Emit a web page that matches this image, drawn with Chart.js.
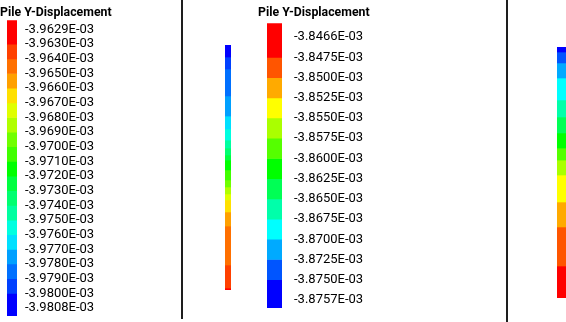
<!DOCTYPE html>
<html>
<head>
<meta charset="utf-8">
<script src="https://cdn.jsdelivr.net/npm/chart.js@4.4.1/dist/chart.umd.min.js"></script>
<style>
  body { margin: 0; width: 566px; height: 322px; overflow: hidden; background: #fff; position: relative; }
  canvas { position: absolute; }
  .divisor { position: absolute; top: 0; width: 2px; background: #1e1e1e; }
</style>
</head>
<body>
<canvas id="leyenda1" width="180" height="322" style="left:0;top:0"></canvas>
<canvas id="pilote1" width="6" height="245" style="left:225px;top:45px"></canvas>
<div class="divisor" style="left:181px;height:319px"></div>
<canvas id="leyenda2" width="224" height="322" style="left:258px;top:0"></canvas>
<div class="divisor" style="left:506px;height:322px"></div>
<canvas id="pilote2" width="10" height="251" style="left:557px;top:47px"></canvas>
<script>
// legend values (x1E-03)
const valoresLeyenda1 = [-3.9629, -3.9630, -3.9640, -3.9650, -3.9660, -3.9670, -3.9680, -3.9690, -3.9700, -3.9710,
  -3.9720, -3.9730, -3.9740, -3.9750, -3.9760, -3.9770, -3.9780, -3.9790, -3.9800, -3.9808];
const valoresLeyenda2 = [-3.8466, -3.8475, -3.8500, -3.8525, -3.8550, -3.8575, -3.8600, -3.8625, -3.8650, -3.8675,
  -3.8700, -3.8725, -3.8750, -3.8757];

const colores1 = ['#ff0000', '#ff4000', '#ff7000', '#ffa000', '#ffe000', '#e0ff00', '#b0ff00', '#70ff00', '#40ff00', '#00ff00',
  '#00ff40', '#00ff70', '#00ffa0', '#00ffe0', '#00e0ff', '#00a0ff', '#0070ff', '#0040ff', '#0000ff'];
const colores2 = ['#ff0000', '#ff5500', '#ffaa00', '#ffff00', '#aaff00', '#55ff00', '#00ff00', '#00ff55', '#00ffaa', '#00ffff',
  '#00aaff', '#0055ff', '#0000ff'];

// piles: depth of band limits (m) and legend band of each segment, top to bottom
const profPilote1 = [0, 0.98, 1.96, 4.16, 5.80, 6.86, 7.76, 8.41, 8.98, 9.39, 10.20, 11.02, 11.59, 12.16, 12.65, 13.63, 14.78, 17.96, 19.84, 20];
const bandaPilote1 = [18, 17, 16, 15, 14, 13, 12, 11, 10, 9, 8, 7, 6, 5, 4, 3, 2, 1, 0];
const profPilote2 = [0, 0.40, 1.27, 2.47, 4.22, 5.58, 6.85, 8.05, 9.01, 10.20, 12.35, 14.34, 17.45, 20];
const bandaPilote2 = [12, 11, 10, 9, 8, 7, 6, 5, 4, 3, 2, 1, 0];

const fuente = 'Roboto';
Chart.defaults.font.family = fuente;

const formatear = (v) => {
  const [m, e] = (v * 1e-3).toExponential(4).split('e');
  const exp = Math.abs(Number(e));
  return `${m}E${Number(e) < 0 ? '-' : '+'}${exp < 10 ? '0' + exp : exp}`;
};

function crearLeyenda(id, valores, colores, caja) {
  const n = colores.length;
  const datasets = colores.map((c, k) => ({
    data: [[k === 0 ? caja.min : k, k === n - 1 ? caja.max : k + 1]],
    backgroundColor: c,
    borderWidth: 0,
    barPercentage: 1,
    categoryPercentage: 1,
    yAxisID: 'y'
  }));
  return new Chart(document.getElementById(id), {
    type: 'bar',
    data: { labels: [''], datasets },
    options: {
      responsive: false,
      animation: false,
      layout: { padding: { top: 0, left: 0, right: 0, bottom: caja.abajo } },
      plugins: {
        legend: { display: false },
        tooltip: { enabled: false },
        title: {
          display: true,
          text: 'Pile Y-Displacement',
          align: 'start',
          color: '#000',
          font: { size: 12.3, weight: 'bold' },
          padding: { top: 5.5, bottom: caja.tituloAbajo }
        }
      },
      scales: {
        x: { display: false, stacked: true },
        hueco: {
          axis: 'y', position: 'left',
          ticks: { display: false },
          grid: { display: false, drawTicks: false },
          border: { display: false },
          afterFit: (s) => { s.width = caja.hueco; s.paddingTop = 0; s.paddingBottom = 0; }
        },
        y: {
          position: 'right',
          reverse: true,
          min: caja.min,
          max: caja.max,
          grid: { display: false, drawTicks: false },
          border: { display: false },
          afterBuildTicks: (s) => { s.ticks = valores.map((v, i) => ({ value: i })); },
          afterFit: (s) => { s.width = caja.ancho; s.paddingTop = 0; s.paddingBottom = 0; },
          ticks: {
            autoSkip: false,
            padding: caja.sep,
            color: '#000',
            font: { size: 13 },
            callback: (v) => formatear(valores[v])
          }
        }
      }
    }
  });
}

function crearPilote(id, prof, bandas, colores) {
  const datasets = bandas.map((b, k) => ({
    data: [[prof[k], prof[k + 1]]],
    backgroundColor: colores[b],
    borderWidth: 0,
    barPercentage: 1,
    categoryPercentage: 1
  }));
  return new Chart(document.getElementById(id), {
    type: 'bar',
    data: { labels: [''], datasets },
    options: {
      responsive: false,
      animation: false,
      layout: { padding: 0 },
      plugins: { legend: { display: false }, tooltip: { enabled: false } },
      scales: {
        x: { display: false, stacked: true },
        y: { display: false, reverse: true, min: prof[0], max: prof[prof.length - 1] }
      }
    }
  });
}

crearLeyenda('leyenda1', valoresLeyenda1, colores1, { min: -0.634, max: 19.546, hueco: 7, ancho: 163, sep: 8, abajo: 6, tituloAbajo: 0 });
crearLeyenda('leyenda2', valoresLeyenda2, colores2, { min: -0.69, max: 13.4, hueco: 9, ancho: 200, sep: 12, abajo: 14, tituloAbajo: 3 });
crearPilote('pilote1', profPilote1, bandaPilote1, colores1);
crearPilote('pilote2', profPilote2, bandaPilote2, colores2);
</script>
</body>
</html>
